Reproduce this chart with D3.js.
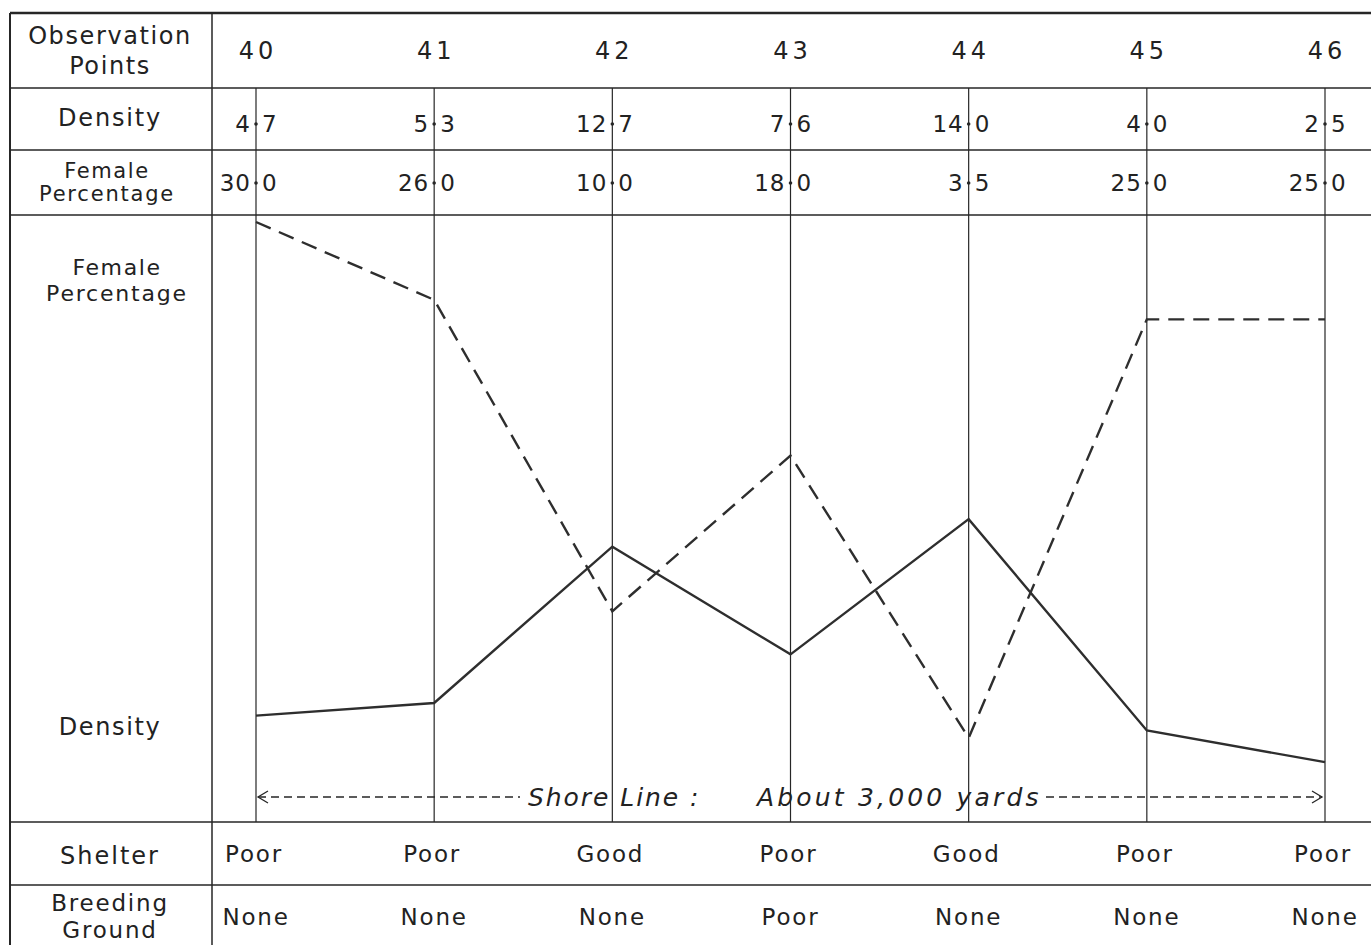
<!DOCTYPE html>
<html>
<head>
<meta charset="utf-8">
<script src="https://cdn.jsdelivr.net/npm/d3@7"></script>
<style>
  html, body { margin: 0; padding: 0; background: #fff; }
  svg { display: block; }
  text { font-family: "DejaVu Sans", sans-serif; fill: #222; }
</style>
</head>
<body>
<svg id="chart" width="1371" height="945"></svg>
<script>
// ---- data ----
const points = ["40", "41", "42", "43", "44", "45", "46"];
const density = [4.7, 5.3, 12.7, 7.6, 14.0, 4.0, 2.5];
const femalePct = [30.0, 26.0, 10.0, 18.0, 3.5, 25.0, 25.0];
const shelter = ["Poor", "Poor", "Good", "Poor", "Good", "Poor", "Poor"];
const breeding = ["None", "None", "None", "Poor", "None", "None", "None"];
const shoreLabelLeft = "Shore Line :";
const shoreLabelRight = "About 3,000 yards";

// ---- layout ----
const W = 1371, H = 945;
const frameLeft = 10, frameTop = 13, labelSep = 212;
const rowY = { obsBottom: 88, denBottom: 150, femBottom: 215, chartBottom: 822, shelterBottom: 885 };

const svg = d3.select("#chart");
const ink = "#262626";

const x = d3.scalePoint().domain(points).range([256, 1325]);
const yFem = d3.scaleLinear().domain([0, 30]).range([806, 222]);
const yDen = d3.scaleLinear().domain([0, 15]).range([815, 498]);

// ---- frame ----
const g = svg.append("g");
g.append("line").attr("x1", frameLeft).attr("x2", W).attr("y1", frameTop).attr("y2", frameTop)
  .attr("stroke", ink).attr("stroke-width", 2.5);
g.append("line").attr("x1", frameLeft).attr("x2", frameLeft).attr("y1", frameTop).attr("y2", H)
  .attr("stroke", ink).attr("stroke-width", 2);
g.append("line").attr("x1", labelSep).attr("x2", labelSep).attr("y1", frameTop).attr("y2", H)
  .attr("stroke", ink).attr("stroke-width", 1.5);
[rowY.obsBottom, rowY.denBottom, rowY.femBottom, rowY.chartBottom, rowY.shelterBottom].forEach(yy => {
  g.append("line").attr("x1", frameLeft).attr("x2", W).attr("y1", yy).attr("y2", yy)
    .attr("stroke", ink).attr("stroke-width", 1.6);
});

// vertical point lines (through density, female and chart rows)
g.selectAll("line.vp").data(points).join("line").attr("class", "vp")
  .attr("x1", d => x(d)).attr("x2", d => x(d))
  .attr("y1", rowY.obsBottom).attr("y2", rowY.chartBottom)
  .attr("stroke", ink).attr("stroke-width", 1.2);

// ---- row labels ----
function label(txt, cx, cy, size, ls, extra) {
  const t = svg.append("text").attr("x", cx).attr("y", cy).attr("dy", "0.36em")
    .attr("text-anchor", "middle").attr("font-size", size)
    .attr("letter-spacing", ls).text(txt);
  if (extra) extra(t);
  return t;
}
label("Observation", 110, 35, 24, 1.6);
label("Points", 110, 65, 24, 1.6);
label("Density", 110, 117, 24, 1.8);
label("Female", 107, 170, 21, 1.6);
label("Percentage", 107, 193, 21, 1.8);
label("Female", 117, 267, 22, 1.6);
label("Percentage", 117, 293, 22, 1.8);
label("Density", 110, 726, 24, 1.6);
label("Shelter", 110, 855, 24, 2);
label("Breeding", 110, 903, 23, 1.8);
label("Ground", 110, 930, 23, 1.8);

// ---- observation numbers ----
svg.selectAll("text.obs").data(points).join("text").attr("class", "obs")
  .attr("x", d => x(d) + 2).attr("y", 50).attr("dy", "0.36em")
  .attr("text-anchor", "middle").attr("font-size", 24).attr("letter-spacing", 4)
  .text(d => d);

// ---- decimal values split on the point line ----
function decimalRow(values, cy, cls) {
  const fmt = d3.format(".1f");
  const parts = values.map((v, i) => ({ p: points[i], s: fmt(v).split(".") }));
  svg.selectAll("text." + cls + "i").data(parts).join("text").attr("class", cls + "i")
    .attr("x", d => x(d.p) - 5).attr("y", cy).attr("dy", "0.36em")
    .attr("text-anchor", "end").attr("font-size", 23).attr("letter-spacing", 1)
    .text(d => d.s[0]);
  svg.selectAll("text." + cls + "f").data(parts).join("text").attr("class", cls + "f")
    .attr("x", d => x(d.p) + 6).attr("y", cy).attr("dy", "0.36em")
    .attr("text-anchor", "start").attr("font-size", 23)
    .text(d => d.s[1]);
  svg.selectAll("circle." + cls + "d").data(parts).join("circle").attr("class", cls + "d")
    .attr("cx", d => x(d.p)).attr("cy", cy).attr("r", 1.8).attr("fill", ink);
}
decimalRow(density, 124, "den");
decimalRow(femalePct, 183, "fem");

// ---- lines ----
const lineFem = d3.line().x((d, i) => x(points[i])).y(d => yFem(d));
const lineDen = d3.line().x((d, i) => x(points[i])).y(d => yDen(d));

svg.append("path").datum(femalePct).attr("d", lineFem)
  .attr("fill", "none").attr("stroke", "#2e2e2e").attr("stroke-width", 2.4)
  .attr("stroke-dasharray", "16,9").attr("stroke-linejoin", "miter");
svg.append("path").datum(density).attr("d", lineDen)
  .attr("fill", "none").attr("stroke", "#2e2e2e").attr("stroke-width", 2.4)
  .attr("stroke-linejoin", "miter");

// ---- shore line ----
const shoreY = 797;
const xs0 = x(points[0]) + 2, xs1 = x(points[points.length - 1]) - 3;
const tLeft = svg.append("text").attr("x", 528).attr("y", shoreY).attr("dy", "0.36em")
  .attr("font-size", 25).attr("font-style", "italic").attr("letter-spacing", 1.5)
  .attr("textLength", 172).attr("lengthAdjust", "spacing").text(shoreLabelLeft);
const tRight = svg.append("text").attr("x", 757).attr("y", shoreY).attr("dy", "0.36em")
  .attr("font-size", 25).attr("font-style", "italic").attr("letter-spacing", 1.5)
  .attr("textLength", 283).attr("lengthAdjust", "spacing").text(shoreLabelRight);
svg.append("line").attr("x1", xs0).attr("x2", 520).attr("y1", shoreY).attr("y2", shoreY)
  .attr("stroke", ink).attr("stroke-width", 1.3).attr("stroke-dasharray", "8,5");
svg.append("line").attr("x1", 1046).attr("x2", xs1).attr("y1", shoreY).attr("y2", shoreY)
  .attr("stroke", ink).attr("stroke-width", 1.3).attr("stroke-dasharray", "8,5");
svg.append("path").attr("d", `M${xs0 + 10},${shoreY - 6}L${xs0},${shoreY}L${xs0 + 10},${shoreY + 6}`)
  .attr("fill", "none").attr("stroke", ink).attr("stroke-width", 1.3);
svg.append("path").attr("d", `M${xs1 - 10},${shoreY - 6}L${xs1},${shoreY}L${xs1 - 10},${shoreY + 6}`)
  .attr("fill", "none").attr("stroke", ink).attr("stroke-width", 1.3);

// ---- shelter & breeding rows ----
svg.selectAll("text.sh").data(shelter).join("text").attr("class", "sh")
  .attr("x", (d, i) => x(points[i]) - 2).attr("y", 854).attr("dy", "0.36em")
  .attr("text-anchor", "middle").attr("font-size", 23).attr("letter-spacing", 1.8)
  .text(d => d);
svg.selectAll("text.br").data(breeding).join("text").attr("class", "br")
  .attr("x", (d, i) => x(points[i])).attr("y", 917).attr("dy", "0.36em")
  .attr("text-anchor", "middle").attr("font-size", 23).attr("letter-spacing", 1.8)
  .text(d => d);
</script>
</body>
</html>
